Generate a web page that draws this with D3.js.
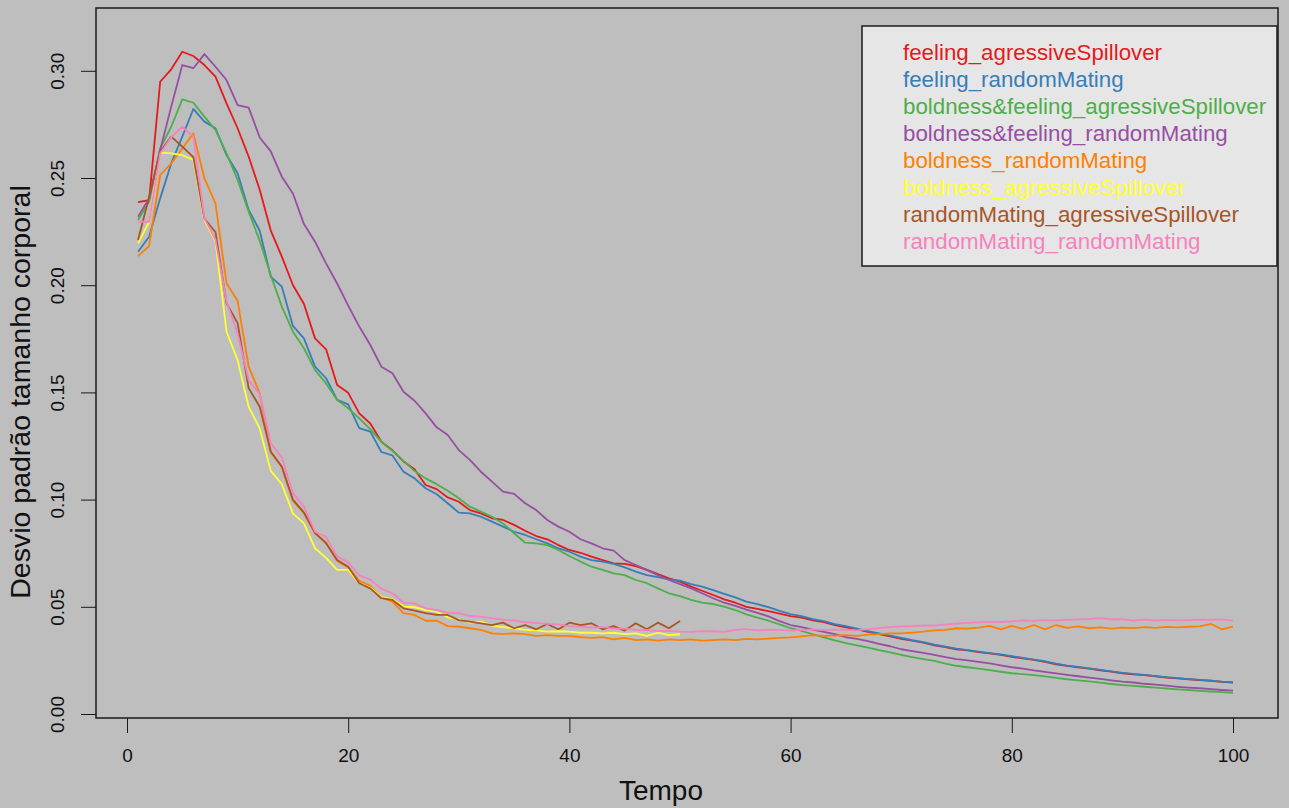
<!DOCTYPE html>
<html>
<head>
<meta charset="utf-8">
<script src="https://cdn.jsdelivr.net/npm/d3@7"></script>
<style>
  html, body { margin: 0; padding: 0; background: #bebebe; }
  svg { display: block; }
</style>
</head>
<body>
<script>
// series, t = 1..n
var seriesNames = [
  "feeling_agressiveSpillover",
  "feeling_randomMating",
  "boldness&feeling_agressiveSpillover",
  "boldness&feeling_randomMating",
  "boldness_randomMating",
  "boldness_agressiveSpillover",
  "randomMating_agressiveSpillover",
  "randomMating_randomMating"
];
var seriesColors = ["#E41A1C", "#377EB8", "#4DAF4A", "#984EA3", "#FF7F00", "#FFFF33", "#A65628", "#F781BF"];

var feelingAgr = [0.2387,0.2397,0.2949,0.3007,0.3089,0.3069,0.3027,0.2973,0.2848,0.2732,
  0.2600,0.2445,0.2255,0.2133,0.2001,0.1912,0.1752,0.1701,0.1535,0.1498,
  0.1402,0.1355,0.1270,0.1230,0.1178,0.1142,0.1068,0.1049,0.1010,0.0990,
  0.0951,0.0936,0.0913,0.0905,0.0882,0.0855,0.0830,0.0815,0.0788,0.0765,
  0.0752,0.0734,0.0718,0.0703,0.0700,0.0690,0.0672,0.0652,0.0633,0.0617,
  0.0594,0.0575,0.0555,0.0535,0.0519,0.0500,0.0490,0.0480,0.0468,0.0457,
  0.0449,0.0437,0.0428,0.0415,0.0404,0.0395,0.0383,0.0372,0.0362,0.0351,
  0.0342,0.0333,0.0320,0.0312,0.0302,0.0297,0.0289,0.0283,0.0276,0.0267,
  0.0259,0.0252,0.0243,0.0232,0.0224,0.0217,0.0212,0.0204,0.0198,0.0190,
  0.0185,0.0181,0.0176,0.0170,0.0166,0.0162,0.0158,0.0155,0.0150,0.0146];

var feelingRnd = [0.2156,0.2226,0.2405,0.2568,0.2693,0.2822,0.2763,0.2732,0.2607,0.2522,
  0.2351,0.2254,0.2040,0.1993,0.1810,0.1752,0.1620,0.1566,0.1465,0.1444,
  0.1333,0.1317,0.1222,0.1206,0.1130,0.1099,0.1053,0.1025,0.0983,0.0939,
  0.0936,0.0920,0.0897,0.0874,0.0850,0.0835,0.0815,0.0796,0.0773,0.0757,
  0.0734,0.0718,0.0711,0.0700,0.0684,0.0664,0.0648,0.0638,0.0628,0.0622,
  0.0606,0.0594,0.0578,0.0560,0.0544,0.0524,0.0512,0.0498,0.0481,0.0466,
  0.0457,0.0443,0.0433,0.0419,0.0410,0.0398,0.0386,0.0376,0.0365,0.0355,
  0.0344,0.0335,0.0323,0.0314,0.0305,0.0298,0.0291,0.0284,0.0278,0.0270,
  0.0262,0.0254,0.0246,0.0235,0.0226,0.0220,0.0213,0.0206,0.0199,0.0192,
  0.0187,0.0182,0.0177,0.0172,0.0167,0.0163,0.0159,0.0156,0.0151,0.0148];

var boldFeelAgr = [0.2304,0.2390,0.2638,0.2739,0.2867,0.2851,0.2786,0.2724,0.2615,0.2491,
  0.2343,0.2207,0.2047,0.1900,0.1783,0.1706,0.1604,0.1542,0.1465,0.1426,
  0.1379,0.1328,0.1270,0.1228,0.1181,0.1134,0.1099,0.1072,0.1041,0.1006,
  0.0967,0.0944,0.0920,0.0889,0.0843,0.0799,0.0796,0.0788,0.0765,0.0737,
  0.0711,0.0687,0.0672,0.0656,0.0648,0.0625,0.0610,0.0586,0.0563,0.0550,
  0.0532,0.0519,0.0513,0.0501,0.0485,0.0465,0.0450,0.0435,0.0418,0.0400,
  0.0388,0.0372,0.0357,0.0343,0.0331,0.0320,0.0310,0.0298,0.0287,0.0276,
  0.0265,0.0256,0.0248,0.0235,0.0225,0.0218,0.0212,0.0205,0.0197,0.0190,
  0.0186,0.0181,0.0175,0.0168,0.0162,0.0157,0.0152,0.0146,0.0140,0.0135,
  0.0131,0.0127,0.0123,0.0119,0.0115,0.0112,0.0108,0.0105,0.0102,0.0099];

var boldFeelRnd = [0.2320,0.2405,0.2631,0.2833,0.3027,0.3012,0.3078,0.3019,0.2957,0.2840,
  0.2828,0.2689,0.2624,0.2506,0.2428,0.2285,0.2203,0.2102,0.2008,0.1905,
  0.1807,0.1721,0.1620,0.1589,0.1503,0.1461,0.1402,0.1337,0.1301,0.1231,
  0.1185,0.1130,0.1084,0.1037,0.1027,0.0983,0.0951,0.0905,0.0874,0.0850,
  0.0815,0.0796,0.0773,0.0762,0.0718,0.0695,0.0672,0.0648,0.0625,0.0606,
  0.0586,0.0563,0.0540,0.0519,0.0504,0.0487,0.0472,0.0455,0.0433,0.0415,
  0.0405,0.0393,0.0383,0.0372,0.0358,0.0350,0.0340,0.0327,0.0316,0.0302,
  0.0293,0.0285,0.0276,0.0265,0.0256,0.0250,0.0243,0.0236,0.0227,0.0218,
  0.0212,0.0203,0.0196,0.0189,0.0182,0.0176,0.0170,0.0164,0.0157,0.0151,
  0.0147,0.0141,0.0137,0.0132,0.0127,0.0123,0.0120,0.0116,0.0112,0.0109];

var boldRnd = [0.2136,0.2183,0.2514,0.2568,0.2638,0.2708,0.2498,0.2382,0.2009,0.1927,
  0.1620,0.1496,0.1220,0.1152,0.0995,0.0936,0.0843,0.0800,0.0714,0.0684,
  0.0621,0.0598,0.0544,0.0524,0.0470,0.0462,0.0435,0.0435,0.0410,0.0407,
  0.0400,0.0392,0.0376,0.0373,0.0376,0.0373,0.0364,0.0368,0.0364,0.0364,
  0.0359,0.0355,0.0359,0.0348,0.0355,0.0345,0.0348,0.0342,0.0348,0.0345,
  0.0348,0.0342,0.0345,0.0348,0.0345,0.0350,0.0348,0.0352,0.0355,0.0357,
  0.0362,0.0368,0.0364,0.0366,0.0368,0.0364,0.0370,0.0373,0.0376,0.0376,
  0.0380,0.0384,0.0390,0.0392,0.0400,0.0398,0.0403,0.0411,0.0395,0.0411,
  0.0397,0.0415,0.0395,0.0415,0.0402,0.0409,0.0400,0.0404,0.0398,0.0403,
  0.0401,0.0405,0.0402,0.0406,0.0404,0.0407,0.0409,0.0420,0.0395,0.0407];

var boldAgr = [0.2195,0.2296,0.2618,0.2615,0.2607,0.2584,0.2304,0.2205,0.1783,0.1651,
  0.1433,0.1332,0.1134,0.1072,0.0936,0.0889,0.0773,0.0728,0.0672,0.0672,
  0.0610,0.0590,0.0546,0.0535,0.0501,0.0498,0.0485,0.0477,0.0451,0.0442,
  0.0426,0.0431,0.0412,0.0405,0.0400,0.0392,0.0390,0.0384,0.0386,0.0384,
  0.0379,0.0379,0.0376,0.0379,0.0373,0.0376,0.0364,0.0379,0.0368,0.0372];

var rndAgr = [0.2211,0.2413,0.2623,0.2693,0.2646,0.2597,0.2310,0.2248,0.1915,0.1823,
  0.1520,0.1433,0.1224,0.1153,0.1000,0.0940,0.0845,0.0796,0.0718,0.0687,
  0.0610,0.0586,0.0540,0.0532,0.0493,0.0482,0.0470,0.0462,0.0462,0.0438,
  0.0431,0.0423,0.0415,0.0426,0.0400,0.0415,0.0395,0.0420,0.0395,0.0426,
  0.0415,0.0423,0.0395,0.0410,0.0389,0.0423,0.0395,0.0426,0.0400,0.0434];

var rndRnd = [0.2296,0.2296,0.2615,0.2690,0.2739,0.2693,0.2312,0.2212,0.1923,0.1776,
  0.1558,0.1492,0.1263,0.1196,0.1030,0.0967,0.0850,0.0826,0.0734,0.0707,
  0.0646,0.0627,0.0584,0.0563,0.0519,0.0516,0.0493,0.0485,0.0473,0.0470,
  0.0457,0.0454,0.0446,0.0440,0.0436,0.0428,0.0425,0.0420,0.0418,0.0410,
  0.0408,0.0403,0.0405,0.0398,0.0398,0.0392,0.0391,0.0387,0.0388,0.0384,
  0.0383,0.0387,0.0386,0.0383,0.0392,0.0396,0.0390,0.0394,0.0392,0.0389,
  0.0392,0.0395,0.0391,0.0394,0.0393,0.0390,0.0396,0.0401,0.0405,0.0409,
  0.0410,0.0413,0.0412,0.0418,0.0422,0.0425,0.0427,0.0430,0.0429,0.0432,
  0.0436,0.0434,0.0438,0.0437,0.0439,0.0441,0.0443,0.0447,0.0441,0.0442,
  0.0436,0.0440,0.0436,0.0439,0.0437,0.0438,0.0440,0.0439,0.0441,0.0436];

var xTicks = [0, 20, 40, 60, 80, 100];
var yTicks = [0.00, 0.05, 0.10, 0.15, 0.20, 0.25, 0.30];

var allSeries = [feelingAgr, feelingRnd, boldFeelAgr, boldFeelRnd, boldRnd, boldAgr, rndAgr, rndRnd];

var width = 1289, height = 808;
var box = {left: 96, right: 1278, top: 8, bottom: 718};
var font = "'Liberation Sans', Arial, sans-serif";

var xScale = d3.scaleLinear().domain([0, 100]).range([127, 1233]);
var yScale = d3.scaleLinear().domain([0, 0.30]).range([714, 70.8]);

var svg = d3.select("body").append("svg")
    .attr("width", width)
    .attr("height", height)
    .style("font-family", font);

svg.append("rect")
    .attr("width", width).attr("height", height)
    .attr("fill", "#bebebe");

// lines
var line = d3.line()
    .x(function(d, i) { return xScale(i + 1); })
    .y(function(d) { return yScale(d); });

svg.selectAll("path.serie")
  .data(allSeries)
  .enter().append("path")
    .attr("class", "serie")
    .attr("d", function(d) { return line(d); })
    .attr("fill", "none")
    .attr("stroke", function(d, i) { return seriesColors[i]; })
    .attr("stroke-width", 1.8)
    .attr("stroke-linejoin", "round");

// plot box
svg.append("rect")
    .attr("x", box.left).attr("y", box.top)
    .attr("width", box.right - box.left)
    .attr("height", box.bottom - box.top)
    .attr("fill", "none")
    .attr("stroke", "#1a1a1a")
    .attr("stroke-width", 1.5);

// axis-x
var gx = svg.append("g")
    .attr("transform", "translate(0," + box.bottom + ")")
    .call(d3.axisBottom(xScale).tickValues(xTicks).tickSize(15).tickPadding(16));
gx.select(".domain").remove();
gx.selectAll("line").attr("stroke", "#1a1a1a");
gx.selectAll("text")
    .attr("font-size", 19)
    .attr("fill", "#111")
    .attr("font-family", font);

// axis-y, labels parallel to the axis
var gy = svg.append("g")
    .attr("transform", "translate(" + box.left + ",0)")
    .call(d3.axisLeft(yScale).tickValues(yTicks).tickSize(15).tickFormat(d3.format(".2f")));
gy.select(".domain").remove();
gy.selectAll("line").attr("stroke", "#1a1a1a");
gy.selectAll("text")
    .attr("font-size", 19)
    .attr("fill", "#111")
    .attr("font-family", font)
    .attr("text-anchor", "middle")
    .attr("x", 0).attr("y", 0).attr("dy", 0)
    .attr("transform", "translate(-32,0) rotate(-90)");

// titles
svg.append("text")
    .attr("x", 661).attr("y", 800)
    .attr("text-anchor", "middle")
    .attr("font-size", 28)
    .attr("fill", "#111")
    .text("Tempo");

svg.append("text")
    .attr("transform", "translate(30,392) rotate(-90)")
    .attr("text-anchor", "middle")
    .attr("font-size", 28.5)
    .attr("fill", "#111")
    .text("Desvio padrão tamanho corporal");

// legend
var legend = svg.append("g");
legend.append("rect")
    .attr("x", 862).attr("y", 26)
    .attr("width", 415).attr("height", 240)
    .attr("fill", "#e6e6e6")
    .attr("stroke", "#1a1a1a")
    .attr("stroke-width", 1.5);

legend.selectAll("text")
  .data(seriesNames)
  .enter().append("text")
    .attr("x", 903)
    .attr("y", function(d, i) { return 59.5 + i * 27.04; })
    .attr("font-size", 22.3)
    .attr("fill", function(d, i) { return seriesColors[i]; })
    .text(function(d) { return d; });
</script>
</body>
</html>
